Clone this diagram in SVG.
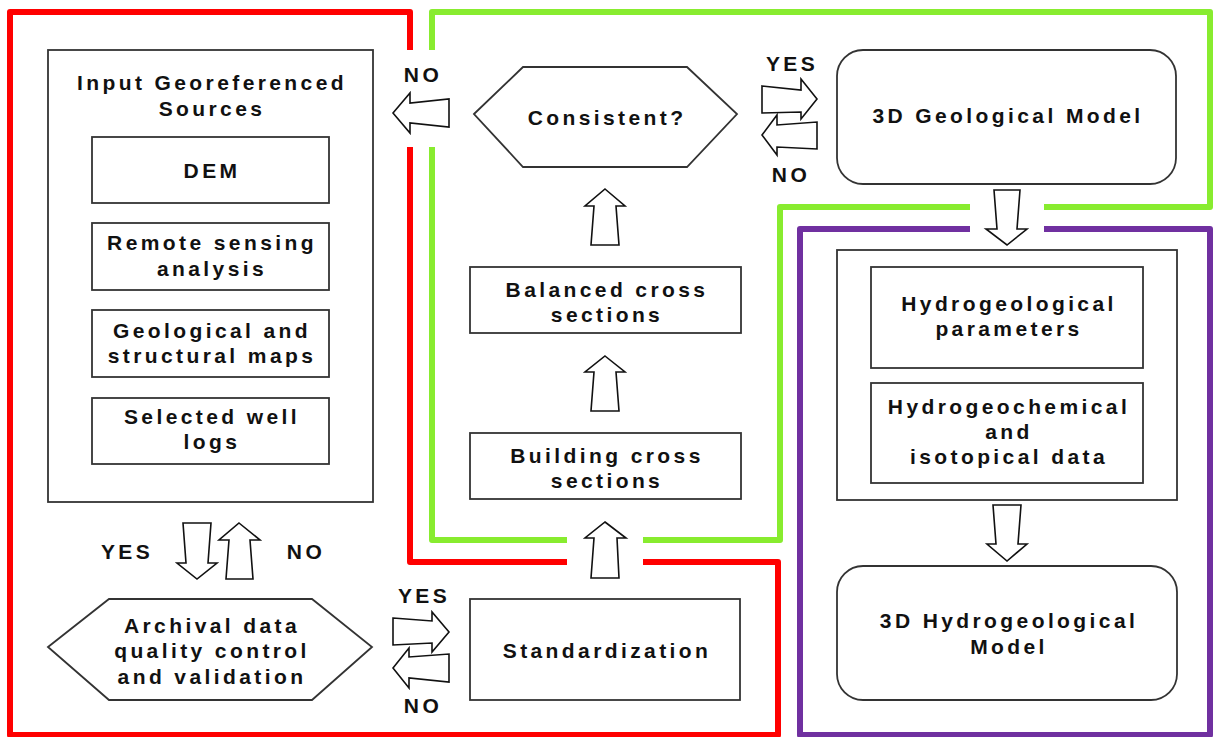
<svg xmlns="http://www.w3.org/2000/svg" width="1213" height="737" viewBox="0 0 1213 737">
<style>
.box{fill:#fff;stroke:#333;stroke-width:1.8}
.arr{fill:#fff;stroke:#111;stroke-width:1.6;stroke-linejoin:miter}
.t{font-family:"Liberation Sans",Arial,sans-serif;font-weight:bold;font-size:21px;letter-spacing:3.4px;fill:#111;text-anchor:middle}
.red{fill:none;stroke:#ff0000;stroke-width:6;stroke-linejoin:round}
.green{fill:none;stroke:#88ec2f;stroke-width:6;stroke-linejoin:round}
.purple{fill:none;stroke:#7030a0;stroke-width:6;stroke-linejoin:round}
</style>
<rect width="1213" height="737" fill="#fff"/>
<g id="frames">
<path class="red" d="M410,50 V12 H10 V735 H778 V562 H643"/>
<path class="red" d="M567,562 H410 V147"/>
<path class="green" d="M432,50 V12 H1210 V207 H1044"/>
<path class="green" d="M970,207 H780 V540 H643"/>
<path class="green" d="M567,540 H432 V147"/>
<path class="purple" d="M970,229 H800 V735 H1210 V229 H1044"/>
</g>
<g id="input">
<rect class="box" x="48" y="50" width="325" height="452"/>
<text class="t" x="212" y="90">Input Georeferenced</text>
<text class="t" x="212" y="116">Sources</text>
</g>
<g id="dem">
<rect class="box" x="92" y="137" width="237" height="66"/>
<text class="t" x="212" y="178">DEM</text>
</g>
<g id="remote">
<rect class="box" x="92" y="223" width="237" height="67"/>
<text class="t" x="212" y="250">Remote sensing</text>
<text class="t" x="212" y="276">analysis</text>
</g>
<g id="geomaps">
<rect class="box" x="92" y="310" width="237" height="67"/>
<text class="t" x="212" y="338">Geological and</text>
<text class="t" x="212" y="363">structural maps</text>
</g>
<g id="wells">
<rect class="box" x="92" y="398" width="237" height="66"/>
<text class="t" x="212" y="424">Selected well</text>
<text class="t" x="212" y="449">logs</text>
</g>
<g id="archival">
<polygon class="box" points="48,647 109,599 312,599 372,647 312,700 109,700"/>
<text class="t" x="212" y="633">Archival data</text>
<text class="t" x="212" y="658">quality control</text>
<text class="t" x="212" y="684">and validation</text>
</g>
<g id="standardization">
<rect class="box" x="470" y="599" width="270" height="101"/>
<text class="t" x="607" y="658">Standardization</text>
</g>
<g id="building">
<rect class="box" x="470" y="433" width="271" height="66"/>
<text class="t" x="607" y="463">Building cross</text>
<text class="t" x="607" y="488">sections</text>
</g>
<g id="balanced">
<rect class="box" x="470" y="267" width="271" height="66"/>
<text class="t" x="607" y="297">Balanced cross</text>
<text class="t" x="607" y="322">sections</text>
</g>
<g id="consistent">
<polygon class="box" points="474,114 523,67 687,67 737,114 687,167 523,167"/>
<text class="t" x="607" y="125">Consistent?</text>
</g>
<g id="geomodel">
<rect class="box" x="837" y="50" width="339" height="134" rx="26" ry="26"/>
<text class="t" x="1008" y="123">3D Geological Model</text>
</g>
<g id="hydrodata">
<rect class="box" x="837" y="250" width="340" height="250"/>
</g>
<g id="hydroparams">
<rect class="box" x="871" y="267" width="272" height="101"/>
<text class="t" x="1009" y="311">Hydrogeological</text>
<text class="t" x="1009" y="336">parameters</text>
</g>
<g id="hydrochem">
<rect class="box" x="871" y="383" width="272" height="100"/>
<text class="t" x="1009" y="414">Hydrogeochemical</text>
<text class="t" x="1009" y="439">and</text>
<text class="t" x="1009" y="464">isotopical data</text>
</g>
<g id="hydromodel">
<rect class="box" x="837" y="566" width="340" height="134" rx="26" ry="26"/>
<text class="t" x="1009" y="628">3D Hydrogeological</text>
<text class="t" x="1009" y="654">Model</text>
</g>
<g id="connectors">
<polygon class="arr" points="393,113 410,93 410,103 449,99 449,127 410,123 410,133"/>
<polygon class="arr" points="762,86 801,90 801,79 817,99 801,119 801,112 762,113"/>
<polygon class="arr" points="762,135 777,115 777,125 817,122 817,149 777,147 777,155"/>
<polygon class="arr" points="994,190 1020,190 1017,229 1027,229 1007,245 986,229 997,229"/>
<polygon class="arr" points="993,505 1021,505 1018,544 1027,544 1007,561 987,544 996,544"/>
<polygon class="arr" points="605,189 625,206 616,206 619,245 591,245 594,206 585,206"/>
<polygon class="arr" points="605,356 625,372 616,372 619,411 591,411 594,372 585,372"/>
<polygon class="arr" points="605,522 626,538 617,538 619,578 591,578 594,538 585,538"/>
<polygon class="arr" points="183,523 211,523 208,563 217,563 197,579 177,563 186,563"/>
<polygon class="arr" points="239,523 260,540 250,540 253,579 226,579 229,540 219,540"/>
<polygon class="arr" points="393,618 432,621 432,612 449,632 432,652 432,643 393,645"/>
<polygon class="arr" points="393,668 409,648 409,657 449,654 449,682 409,678 409,688"/>
<text class="t" x="423" y="82">NO</text>
<text class="t" x="792" y="71">YES</text>
<text class="t" x="791" y="182">NO</text>
<text class="t" x="127" y="559">YES</text>
<text class="t" x="306" y="559">NO</text>
<text class="t" x="424" y="603">YES</text>
<text class="t" x="423" y="713">NO</text>
</g>
</svg>
